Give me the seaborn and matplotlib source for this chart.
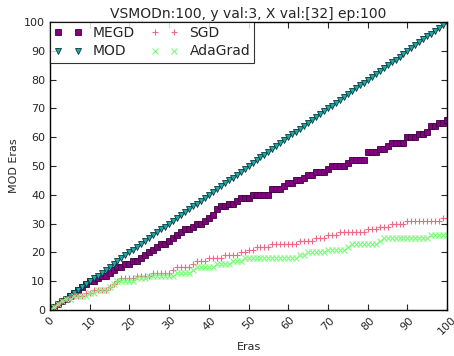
import numpy as np
import pandas as pd
import seaborn as sns
import matplotlib
matplotlib.use("Agg")
import matplotlib.pyplot as plt

eras = list(range(0, 101))
mod = list(range(0, 101))
megd = [0, 1, 2, 3, 4, 5, 6, 7, 8, 9, 10, 10, 11, 12, 12, 13, 14, 15, 15, 16,
        16, 17, 17, 18, 19, 20, 21, 22, 23, 23, 24, 25, 26, 27, 28, 28, 29, 30, 30, 31,
        32, 33, 35, 36, 36, 37, 37, 38, 39, 39, 39, 40, 40, 40, 40, 40, 42, 42, 42, 43,
        44, 44, 45, 45, 46, 47, 47, 48, 48, 48, 49, 50, 50, 50, 50, 51, 52, 52, 52, 52,
        55, 55, 55, 56, 56, 57, 58, 58, 58, 58, 60, 60, 60, 61, 61, 62, 64, 64, 65, 65,
        66]
sgd = [0, 1, 2, 3, 4, 4, 5, 5, 5, 6, 6, 7, 7, 7, 7, 8, 9, 10, 11, 11,
       11, 11, 12, 12, 12, 12, 13, 13, 13, 13, 13, 14, 15, 15, 15, 15, 16, 17, 17, 17,
       18, 18, 18, 18, 19, 19, 19, 19, 20, 20, 21, 21, 22, 22, 22, 22, 23, 23, 23, 23,
       23, 23, 23, 24, 24, 24, 24, 25, 25, 25, 26, 26, 26, 27, 27, 27, 27, 27, 27, 27,
       28, 28, 28, 29, 29, 29, 30, 30, 30, 30, 31, 31, 31, 31, 31, 31, 31, 31, 31, 32,
       32]
adagrad = [0, 1, 2, 3, 4, 4, 5, 5, 5, 5, 6, 6, 7, 7, 7, 8, 9, 10, 10, 10,
           10, 10, 11, 11, 11, 12, 12, 12, 12, 12, 12, 12, 13, 13, 13, 13, 14, 15, 15, 15,
           15, 15, 16, 16, 16, 16, 17, 17, 17, 18, 18, 18, 18, 18, 18, 18, 18, 18, 18, 18,
           18, 18, 18, 19, 19, 20, 20, 20, 20, 20, 21, 21, 21, 21, 21, 22, 23, 23, 23, 23,
           23, 23, 23, 24, 25, 25, 25, 25, 25, 25, 25, 25, 25, 25, 25, 25, 26, 26, 26, 26,
           26]

x_ticks = [0, 10, 20, 30, 40, 50, 60, 70, 80, 90, 100]
y_ticks = [0, 10, 20, 30, 40, 50, 60, 70, 80, 90, 100]

sns.set_style("ticks")
plt.rcParams['font.family'] = ['DejaVu Sans']
plt.rcParams['xtick.direction'] = 'in'
plt.rcParams['ytick.direction'] = 'in'

fig = plt.figure(figsize=(4.54, 3.56), dpi=100)
ax = fig.add_axes([0.110, 0.129, 0.875, 0.809])

series = [
    ("MEGD", megd, dict(marker='s', color='#800080', markeredgecolor='#3c003c', markersize=4.5, markeredgewidth=0.6)),
    ("MOD", mod, dict(marker='v', color='#20a8a8', markeredgecolor='#0a3a3a', markersize=5, markeredgewidth=0.6)),
    ("SGD", sgd, dict(marker='+', color='#f06a88', markeredgecolor='#f06a88', markersize=5, markeredgewidth=0.8)),
    ("AdaGrad", adagrad, dict(marker='x', color='#7dfa7d', markeredgecolor='#7dfa7d', markersize=4, markeredgewidth=0.8)),
]
for name, vals, kw in series:
    df = pd.DataFrame({"Eras": eras, "val": vals})
    sns.lineplot(data=df, x="Eras", y="val", ax=ax, linestyle='none', label=name, **kw)

ax.set_xlim(0, 100)
ax.set_ylim(0, 100)
ax.set_xticks(x_ticks)
ax.set_yticks(y_ticks)
ax.set_xticklabels([str(t) for t in x_ticks], rotation=45, fontsize=8)
ax.set_yticklabels([str(t) for t in y_ticks], fontsize=8)
ax.tick_params(top=True, right=True, length=4, width=0.8)
for s in ax.spines.values():
    s.set_linewidth(1.0)
    s.set_color('black')
ax.set_xlabel("Eras", fontsize=8)
ax.set_ylabel("MOD Eras", fontsize=8)
ax.set_title("VSMODn:100, y val:3, X val:[32] ep:100", fontsize=10, pad=3)
leg = ax.legend(loc='upper left', ncol=2, numpoints=2, fontsize=10, frameon=True,
                fancybox=False, borderaxespad=0, handlelength=2.0, columnspacing=1.1,
                handletextpad=0.8, borderpad=0.3, labelspacing=0.3)
leg.get_frame().set_edgecolor('black')
leg.get_frame().set_linewidth(0.8)
fig.savefig("out.png", dpi=100)
